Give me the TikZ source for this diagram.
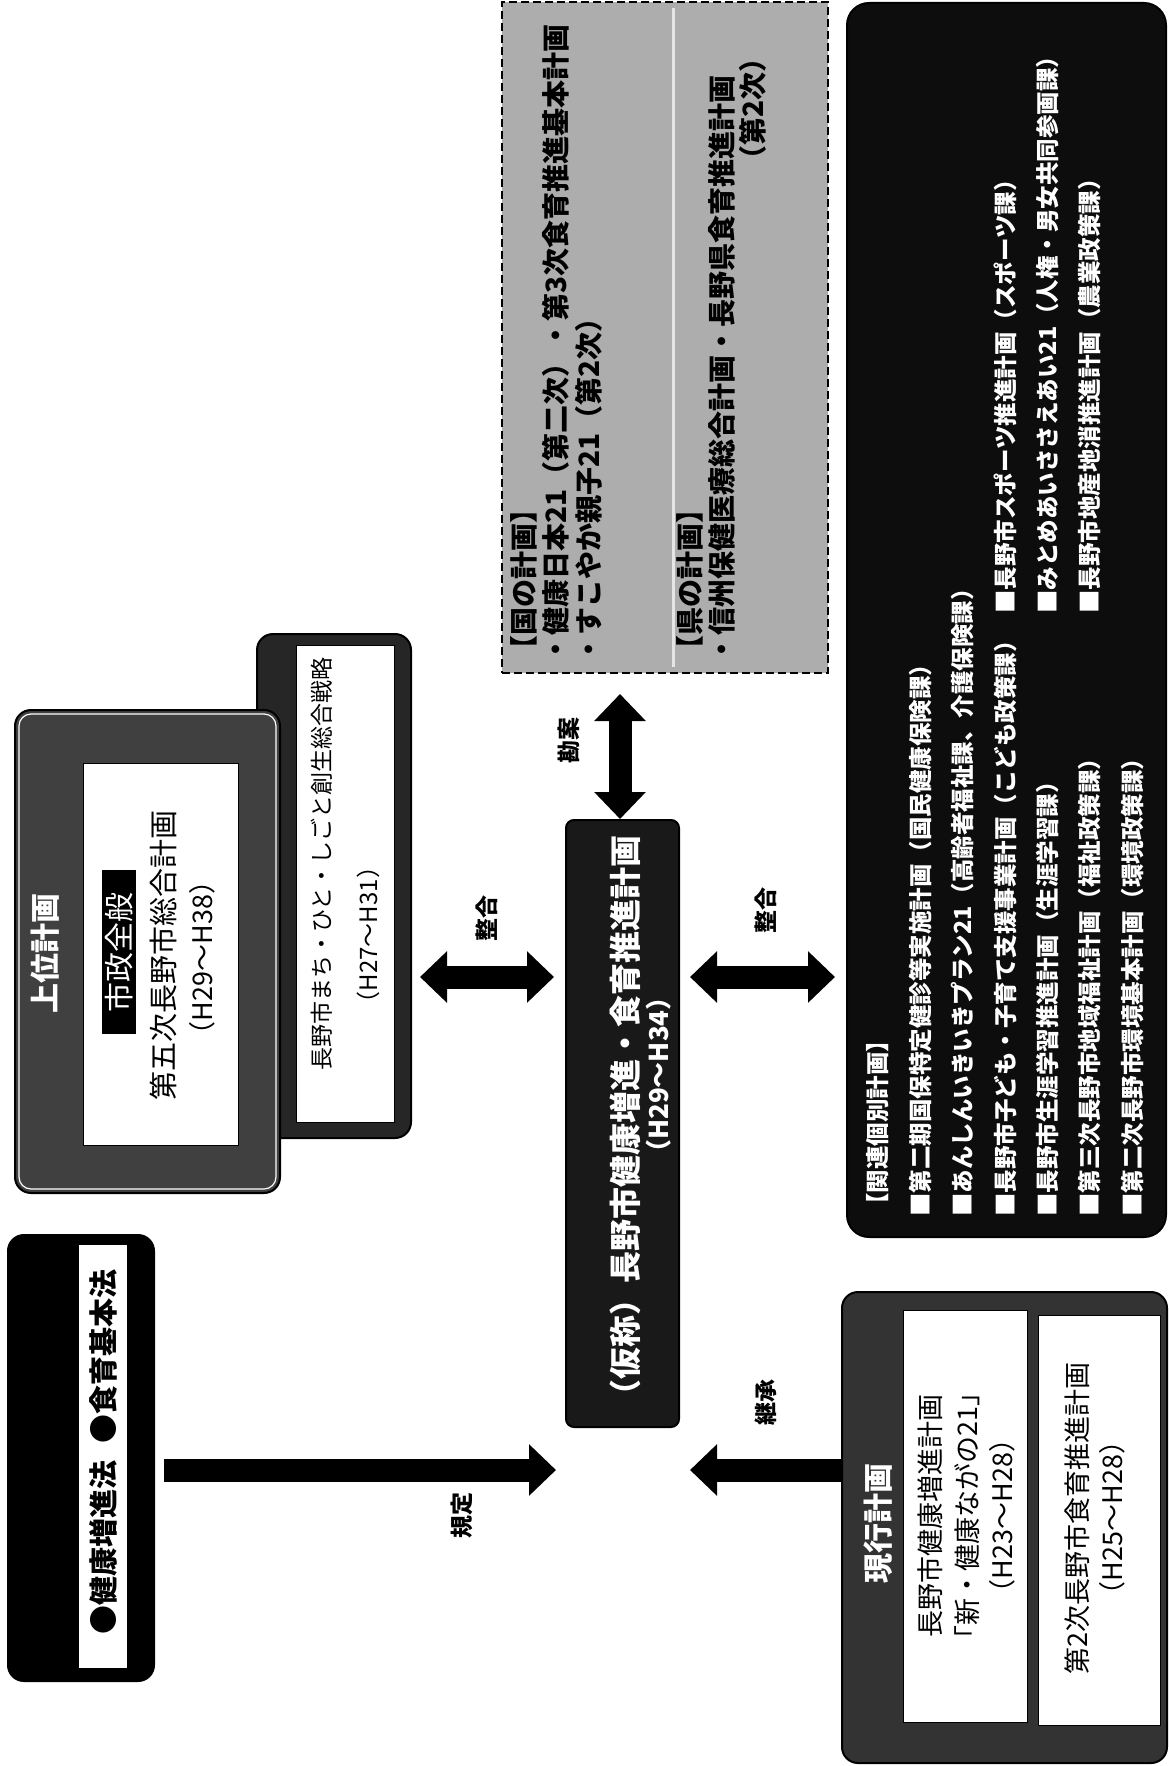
\documentclass[tikz,border=0pt]{standalone}
\usepackage{fontspec}
\setmainfont{Noto Sans CJK JP}
\usetikzlibrary{arrows.meta}

\tikzset{
  plan/.style={rectangle, inner sep=0pt, draw=black, line width=2pt, rounded corners=16pt},
  whitepanel/.style={fill=white, draw=black, line width=1pt},
  vtext/.style={rotate=90, inner sep=0pt},
  lbl/.style={vtext, font=\fontsize{23}{27}\selectfont\bfseries},
  nattext/.style={vtext, anchor=west, font=\fontsize{28}{32}\selectfont\bfseries},
  reltext/.style={vtext, anchor=west, text=white, font=\fontsize{23.5}{28}\selectfont\bfseries},
  bigarrow/.style={line width=23pt, -{Triangle[width=50pt,length=27pt]}},
  twoway/.style={line width=23pt, {Triangle[width=50pt,length=27pt]}-{Triangle[width=50pt,length=27pt]}},
}

\begin{document}
\begin{tikzpicture}[x=1pt, y=-1pt]
  \useasboundingbox (0,0) rectangle (1168,1766);
  \coordinate (row1) at (0,1470);
  \coordinate (row2) at (0,977);

  % laws
  \node[plan, fill=black, minimum width=146pt, minimum height=446pt] (law) at (81,1458) {};
  \fill[white] (79,1245) rectangle (127,1668);
  \node[vtext, font=\fontsize{29}{34}\selectfont\bfseries] (lawtxt) at (103,1452) {●健康増進法\hspace{0.6em}●食育基本法};

  % upper plans
  \node[plan, fill=black!85, minimum width=154pt, minimum height=504pt] (strat) at (334,886) {};
  \draw[whitepanel] (296,645) rectangle (394,1122);
  \node[vtext, font=\fontsize{23}{28}\selectfont] (strat1) at (322,864) {長野市まち・ひと・しごと創生総合戦略};
  \node[vtext, font=\fontsize{24}{28}\selectfont] (strat2) at (368,935) {（H27～H31）};

  \node[plan, fill=black!75, minimum width=265pt, minimum height=483pt] (upper) at (147.5,951.5) {};
  \draw[white, line width=1.2pt, rounded corners=12pt] ([shift={(5,5)}]upper.north west) rectangle ([shift={(-5,-5)}]upper.south east);
  \draw[whitepanel] (83,763) rectangle (238,1145);
  \node[vtext, text=white, font=\fontsize{30}{34}\selectfont\bfseries] (uppertitle) at (45,953) {上位計画};
  \node[vtext, fill=black, text=white, inner xsep=22pt, inner ysep=3pt, font=\fontsize{30}{34}\selectfont] (sisei) at (119,952) {市政全般};
  \node[vtext, font=\fontsize{29}{34}\selectfont] (sogo1) at (163,955) {第五次長野市総合計画};
  \node[vtext, font=\fontsize{27}{32}\selectfont] (sogo2) at (202,958) {（H29～H38）};

  % central plan
  \node[plan, fill=black!90, rounded corners=8pt, minimum width=113pt, minimum height=607pt] (main) at (622.5,1123.5) {};
  \node[vtext, text=white, font=\fontsize{32}{36}\selectfont\bfseries] (main1) at (625,1123) {（仮称）長野市健康増進・食育推進計画};
  \node[vtext, text=white, font=\fontsize{26}{30}\selectfont\bfseries] (main2) at (659,1075) {（H29～H34）};

  % national and prefectural plans
  \node[draw=black, line width=2pt, dash pattern=on 8pt off 4pt, fill=black!32, minimum width=326pt, minimum height=671pt] (nat) at (665,337.5) {};
  \draw[black!10, line width=3pt] (673,8) -- (673,667);
  \node[nattext] (nat1) at (524,664) {【国の計画】};
  \node[nattext] (nat2) at (556,664) {・健康日本21（第二次）・第3次食育推進基本計画};
  \node[nattext] (nat3) at (589,664) {・すこやか親子21（第2次）};
  \node[nattext] (pref1) at (690,664) {【県の計画】};
  \node[nattext] (pref2) at (722,664) {・信州保健医療総合計画・長野県食育推進計画};
  \node[nattext, anchor=east] (pref3) at (753,44) {（第2次）};

  % related plans
  \node[plan, fill=black!95, rounded corners=22pt, minimum width=319pt, minimum height=1234pt] (rel) at (1006.5,620) {};
  \foreach \txt [count=\i] in {{【関連個別計画】},
      {■第二期国保特定健診等実施計画（国民健康保険課）},
      {■あんしんいきいきプラン21（高齢者福祉課、介護保険課）},
      {■長野市子ども・子育て支援事業計画（こども政策課）},
      {■長野市生涯学習推進計画（生涯学習課）},
      {■第三次長野市地域福祉計画（福祉政策課）},
      {■第二次長野市環境基本計画（環境政策課）}}
    \node[reltext] (relA\i) at ({878+42.4*(\i-1)},1217) {\txt};
  \foreach \txt [count=\i] in {{■長野市スポーツ推進計画（スポーツ課）},
      {■みとめあいささえあい21（人権・男女共同参画課）},
      {■長野市地産地消推進計画（農業政策課）}}
    \node[reltext] (relB\i) at ({1005+42.4*(\i-1)},614) {\txt};

  % current plans
  \node[plan, fill=black!80, minimum width=325pt, minimum height=471pt] (now) at (1004.5,1527.5) {};
  \draw[whitepanel] (903,1310) rectangle (1027,1722);
  \draw[whitepanel] (1038,1315) rectangle (1160,1725);
  \node[vtext, text=white, font=\fontsize{30}{34}\selectfont\bfseries] (nowtitle) at (878,1523) {現行計画};
  \node[vtext, font=\fontsize{27}{32}\selectfont] (kenko1) at (930,1516) {長野市健康増進計画};
  \node[vtext, font=\fontsize{27}{32}\selectfont] (kenko2) at (967,1516) {「新・健康ながの21」};
  \node[vtext, font=\fontsize{27}{32}\selectfont] (kenko3) at (1002,1516) {（H23～H28）};
  \node[vtext, font=\fontsize{27}{32}\selectfont] (shoku1) at (1077,1518) {第2次長野市食育推進計画};
  \node[vtext, font=\fontsize{27}{32}\selectfont] (shoku2) at (1112,1518) {（H25～H28）};

  % connectors
  \draw[bigarrow, shorten <=9pt, shorten >=9pt] (law.east |- row1) -- (main.west |- row1);
  \draw[bigarrow, shorten >=10pt] (now.west |- row1) -- (main.east |- row1);
  \draw[twoway, shorten <=8pt, shorten >=11pt] (strat.east |- row2) -- (main.west |- row2);
  \draw[twoway, shorten <=10pt, shorten >=11pt] (main.east |- row2) -- (rel.west |- row2);
  \draw[twoway, shorten >=20pt] (main.north -| 620,0) -- (nat.south -| 620,0);

  \node[lbl] (kitei) at (462,1515) {規定};
  \node[lbl] (seigo1) at (487,918) {整合};
  \node[lbl] (kanan) at (569,740) {勘案};
  \node[lbl] (seigo2) at (766,910) {整合};
  \node[lbl] (keisho) at (766,1402) {継承};
\end{tikzpicture}
\end{document}
